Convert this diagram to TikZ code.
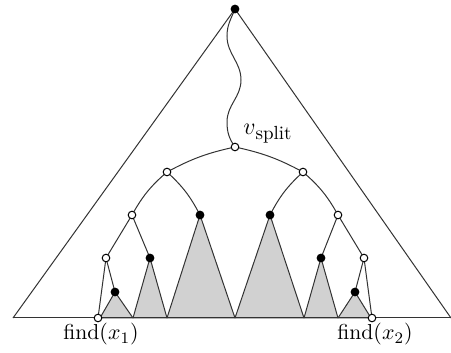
\documentclass[tikz,border=0pt]{standalone}
\begin{document}
\begin{tikzpicture}[x=0.5pt,y=-0.5pt,
  edge/.style={draw=black!80, line width=0.5pt},
  wnode/.style={circle, draw=black, fill=white, inner sep=0pt, minimum size=3.8pt, line width=0.5pt},
  bnode/.style={circle, fill=black, inner sep=0pt, minimum size=4.4pt},
  subtree/.style={fill=black!18, draw=black!80, line width=0.5pt, line join=round},
  lbl/.style={font=\fontsize{10.8}{12}\selectfont, inner sep=0pt}]
\useasboundingbox (0,0) rectangle (451,353);
% positions
\coordinate (root) at (235,9);
\coordinate (L) at (13,318);
\coordinate (R) at (451,318);
\coordinate (vs) at (235,147);
\coordinate (a2) at (167,172);
\coordinate (b2) at (303,172);
\coordinate (a3) at (132,215);
\coordinate (a3b) at (200,215);
\coordinate (b3b) at (270,215);
\coordinate (b3) at (338,215);
\coordinate (a4) at (106,258);
\coordinate (a4b) at (150,258);
\coordinate (b4b) at (321,258);
\coordinate (b4) at (364,258);
\coordinate (a5b) at (115,292);
\coordinate (b5b) at (355,292);
\coordinate (f1) at (98,318);
\coordinate (f2) at (372,318);
\coordinate (p1) at (100,318);
\coordinate (p2) at (133,318);
\coordinate (p3) at (167,318);
\coordinate (p4) at (235,318);
\coordinate (p5) at (304,318);
\coordinate (p6) at (338,318);
\coordinate (p7) at (371,318);
\coordinate (w1) at (227,36);
\coordinate (w2) at (241,80);
\coordinate (w3) at (227,122);
% shaded subtrees
\path[subtree] (a5b) -- (p1) -- (p2) -- cycle;
\path[subtree] (a4b) -- (p2) -- (p3) -- cycle;
\path[subtree] (a3b) -- (p3) -- (p4) -- cycle;
\path[subtree] (b3b) -- (p4) -- (p5) -- cycle;
\path[subtree] (b4b) -- (p5) -- (p6) -- cycle;
\path[subtree] (b5b) -- (p6) -- (p7) -- cycle;
% outer triangle
\draw[edge] (L) -- (root) -- (R);
\draw[edge] (L) -- (R);
% search path
\draw[edge] (root) to[out=-112,in=90] (w1) to[out=-90,in=90] (w2) to[out=-90,in=90] (w3) to[out=-90,in=125] (vs);
% tree edges
\draw[edge] (vs) to[bend right=8] (a2);
\draw[edge] (vs) to[bend left=8] (b2);
\draw[edge] (a2) to[bend right=10] (a3);
\draw[edge] (a2) to[bend left=10] (a3b);
\draw[edge] (b2) to[bend right=10] (b3b);
\draw[edge] (b2) to[bend left=10] (b3);
\draw[edge] (a3) -- (a4);
\draw[edge] (a3) -- (a4b);
\draw[edge] (b3) -- (b4);
\draw[edge] (b3) -- (b4b);
\draw[edge] (a4) -- (f1);
\draw[edge] (a4) -- (a5b);
\draw[edge] (b4) -- (f2);
\draw[edge] (b4) -- (b5b);
% nodes
\node[bnode] (nroot) at (root) {};
\node[wnode] (nvs) at (vs) {};
\node[wnode] (na2) at (a2) {};
\node[wnode] (nb2) at (b2) {};
\node[wnode] (na3) at (a3) {};
\node[bnode] (na3b) at (a3b) {};
\node[bnode] (nb3b) at (b3b) {};
\node[wnode] (nb3) at (b3) {};
\node[wnode] (na4) at (a4) {};
\node[bnode] (na4b) at (a4b) {};
\node[bnode] (nb4b) at (b4b) {};
\node[wnode] (nb4) at (b4) {};
\node[bnode] (na5b) at (a5b) {};
\node[bnode] (nb5b) at (b5b) {};
\node[wnode] (nf1) at (f1) {};
\node[wnode] (nf2) at (f2) {};
% labels
\node[inner sep=0pt, anchor=base west] (lvs) at (243,135) {\fontsize{12.5}{14}\selectfont$v$\raisebox{-2.2pt}{\fontsize{9.5}{11}\selectfont split}};
\node[lbl, anchor=base] (lf1) at (101,340) {find$(x_1)$};
\node[lbl, anchor=base] (lf2) at (375,340) {find$(x_2)$};
\end{tikzpicture}
\end{document}
